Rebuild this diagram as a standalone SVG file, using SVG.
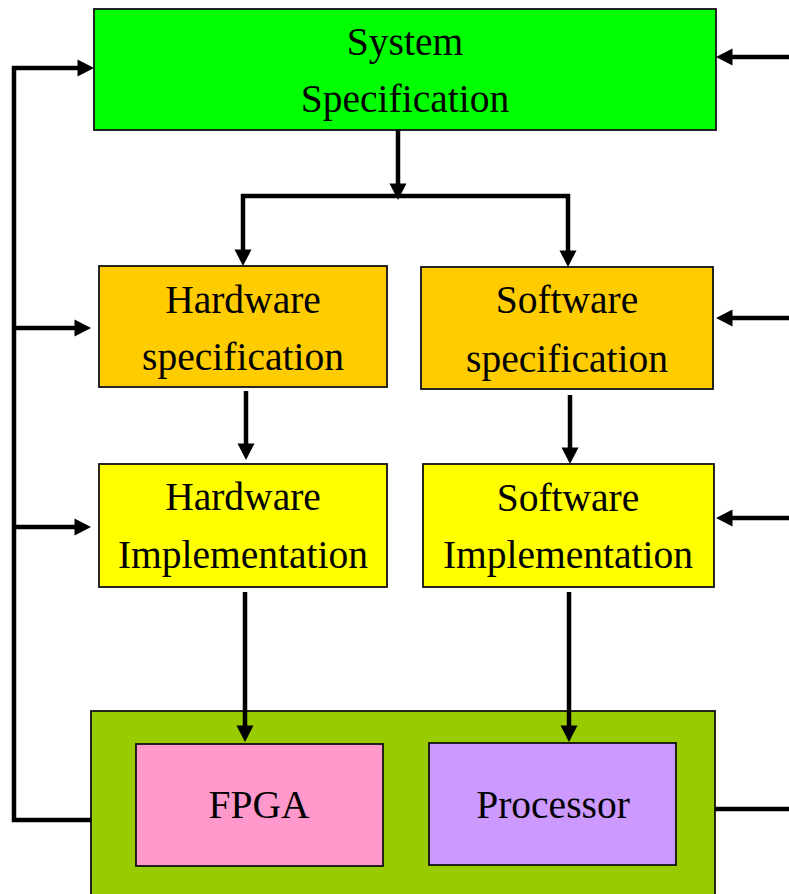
<svg xmlns="http://www.w3.org/2000/svg" width="789" height="894" viewBox="0 0 789 894">
  <style>
    .box { stroke: #111; stroke-width: 1.8; }
    .lbl { font-family: "Liberation Serif", "Times New Roman", serif; font-size: 39.5px; fill: #000; text-anchor: middle; }
    .wire { fill: none; stroke: #000; stroke-width: 4.5; stroke-linecap: butt; }
    .arrow { fill: none; stroke: #000; stroke-width: 4.5; marker-end: url(#head); }
  </style>
  <defs>
    <!-- head starts where the path ends and points 16px further on -->
    <marker id="head" markerUnits="userSpaceOnUse" markerWidth="16" markerHeight="17" viewBox="0 0 16 17" refX="0" refY="8.5" orient="auto" overflow="visible">
      <path d="M-0.5,0 L16,8.5 L-0.5,17 Z" fill="#000"/>
    </marker>
  </defs>

  <rect width="789" height="894" fill="#fff"/>

  <g id="system-specification">
    <rect class="box" x="94" y="9" width="622" height="121" fill="#00ff00"/>
    <text class="lbl" x="405" y="55">System</text>
    <text class="lbl" x="405" y="112">Specification</text>
  </g>

  <g id="hardware-specification">
    <rect class="box" x="99" y="266" width="288" height="121" fill="#ffcc00"/>
    <text class="lbl" x="243" y="313">Hardware</text>
    <text class="lbl" x="243" y="370">specification</text>
  </g>

  <g id="software-specification">
    <rect class="box" x="421" y="267" width="292" height="122" fill="#ffcc00"/>
    <text class="lbl" x="567" y="313">Software</text>
    <text class="lbl" x="567" y="372">specification</text>
  </g>

  <g id="hardware-implementation">
    <rect class="box" x="99" y="464" width="288" height="123" fill="#ffff00"/>
    <text class="lbl" x="243" y="510">Hardware</text>
    <text class="lbl" x="243" y="568">Implementation</text>
  </g>

  <g id="software-implementation">
    <rect class="box" x="423" y="464" width="291" height="123" fill="#ffff00"/>
    <text class="lbl" x="568" y="511">Software</text>
    <text class="lbl" x="568" y="568">Implementation</text>
  </g>

  <g id="platform">
    <rect class="box" x="91" y="711" width="624" height="190" fill="#99cc00"/>
  </g>

  <g id="fpga">
    <rect class="box" x="136" y="744" width="247" height="122" fill="#ff99cc"/>
    <text class="lbl" x="259" y="818">FPGA</text>
  </g>

  <g id="processor">
    <rect class="box" x="429" y="743" width="247" height="122" fill="#cc99ff"/>
    <text class="lbl" x="553" y="818">Processor</text>
  </g>

  <g id="connectors">
    <!-- left feedback loop from the platform back to every stage -->
    <path class="wire" d="M91,820 H14 V66"/>
    <path class="arrow" d="M12,68 H78"/>
    <path class="arrow" d="M14,328 H75"/>
    <path class="arrow" d="M14,527 H75"/>

    <!-- right-side inputs -->
    <path class="arrow" d="M789,57 H732"/>
    <path class="arrow" d="M789,318 H732"/>
    <path class="arrow" d="M789,518 H732"/>
    <path class="wire" d="M715,809 H789"/>

    <!-- system specification split -->
    <path class="arrow" d="M398,130 V184"/>
    <path class="wire" d="M241,196 H570"/>
    <path class="arrow" d="M243,194 V250"/>
    <path class="arrow" d="M568,194 V251"/>

    <!-- specification to implementation -->
    <path class="arrow" d="M246,391 V444"/>
    <path class="arrow" d="M570,395 V448"/>

    <!-- implementation to platform parts -->
    <path class="arrow" d="M245,592 V726"/>
    <path class="arrow" d="M569,592 V726"/>
  </g>
</svg>
